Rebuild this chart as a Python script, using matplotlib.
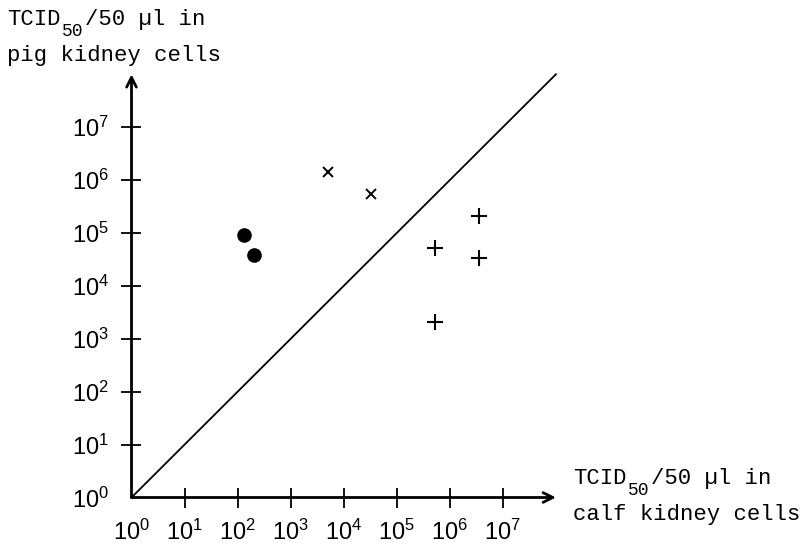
import matplotlib
matplotlib.use("Agg")
import matplotlib.pyplot as plt
import numpy as np

# readings (TCID50/50 ul)
dots_x = [1.3e2, 2.0e2]
dots_y = [9.2e4, 3.8e4]
cross_x = [5.0e3, 3.3e4]
cross_y = [1.45e6, 5.5e5]
plus_x = [5.3e5, 3.5e6, 3.5e6, 5.3e5]
plus_y = [5.1e4, 2.1e5, 3.3e4, 2.05e3]
exps = [0, 1, 2, 3, 4, 5, 6, 7]

W, H = 804, 545
fig = plt.figure(figsize=(W / 100, H / 100), dpi=100)
ax = fig.add_axes([131.5 / W, 47.5 / H, 424.4 / W, 423.2 / H])
ax.set_xscale("log")
ax.set_yscale("log")
ax.set_xlim(1, 1e8)
ax.set_ylim(1, 1e8)
for s in ax.spines.values():
    s.set_visible(False)

# axes with arrow heads
arr = dict(arrowstyle="->,head_length=0.7,head_width=0.35", lw=2.0,
           color="black", shrinkA=0, shrinkB=0)
ax.annotate("", xy=(1e8, 1), xytext=(1, 1), arrowprops=arr, annotation_clip=False)
ax.annotate("", xy=(1, 1e8), xytext=(1, 1), arrowprops=arr, annotation_clip=False)

# diagonal y = x
ax.plot([1, 1e8], [1, 1e8], color="black", lw=1.3, clip_on=False)

ax.plot(dots_x, dots_y, "o", color="black", ms=9.5, clip_on=False)
ax.plot(cross_x, cross_y, "x", color="black", ms=7, mew=1.4, clip_on=False)
ax.plot(plus_x, plus_y, "+", color="black", ms=11, mew=1.5, clip_on=False)

ticks = [10.0 ** e for e in exps]
labels = [r"$\mathregular{10^{%d}}$" % e for e in exps]
ax.set_xticks(ticks)
ax.set_yticks(ticks)
ax.minorticks_off()
tickfont = dict(family="Liberation Sans", size=17)
ax.set_xticklabels(labels, **tickfont)
ax.set_yticklabels(labels, **tickfont)
ax.tick_params(direction="inout", length=14, width=1.3)
ax.tick_params(axis="x", pad=9)
ax.tick_params(axis="y", pad=9)
ax.xaxis.get_major_ticks()[0].tick1line.set_visible(False)
ax.yaxis.get_major_ticks()[0].tick1line.set_visible(False)


def axis_title(x, y, line2):
    # x, y: left edge and baseline of the first line, in pixels from top-left
    mono = dict(family="Liberation Mono", size=16, va="baseline")
    fig.text(x / W, (H - y) / H, "TCID", **mono)
    fig.text((x + 55) / W, (H - y - 11) / H, "50", family="Liberation Mono",
             size=13, va="baseline")
    fig.text((x + 78) / W, (H - y) / H, "/50 µl in", **mono)
    fig.text(x / W, (H - y - 36) / H, line2, **mono)


axis_title(7, 25, "pig kidney cells")
axis_title(573, 484, "calf kidney cells")

fig.savefig("out.png", dpi=100, facecolor="white")
